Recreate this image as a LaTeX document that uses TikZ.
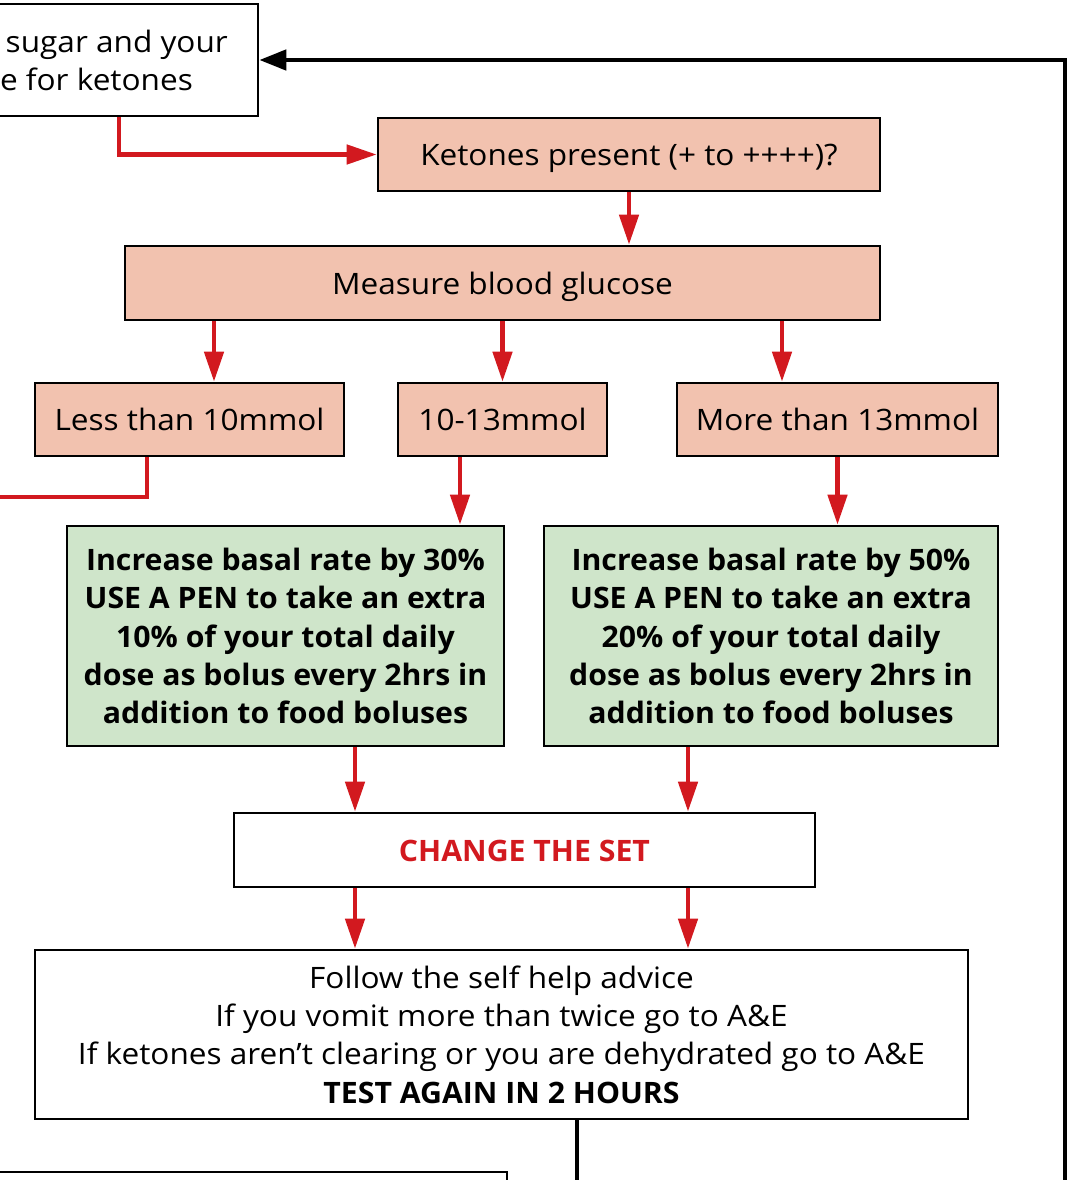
\documentclass[tikz,border=0pt]{standalone}
\usepackage{fontspec}
\setmainfont{Open Sans}[FakeStretch=1.07,BoldFeatures={FakeStretch=1.025}]
\usetikzlibrary{arrows.meta,positioning}
\definecolor{ketfill}{HTML}{F2C2AF}
\definecolor{dosefill}{HTML}{CFE5CA}
\definecolor{arrowred}{HTML}{D2191F}

\begin{document}
\begin{tikzpicture}[x=1pt,y=-1pt]

\tikzset{box/.style={draw,line width=2.6pt,inner sep=0pt,align=center,
           font=\fontsize{29.5}{38.4}\selectfont},
         oneline/.style={text height=22pt,text depth=0pt},
         ketbox/.style={box,oneline,fill=ketfill},
         dosebox/.style={box,fill=dosefill,font=\bfseries\fontsize{29.5}{38.4}\selectfont},
         plaintext/.style={inner sep=0pt,font=\fontsize{29.5}{38.4}\selectfont},
         redarrow/.style={draw=arrowred,line width=4.6pt,-{Triangle[length=30pt,width=19pt]}},
         redline/.style={draw=arrowred,line width=4.6pt},
         loopline/.style={draw=black,line width=4.6pt,-{Triangle[length=27pt,width=20pt]}}}

\useasboundingbox (0,0) rectangle (1069,1180);
\clip (0,0) rectangle (1069,1180);

% boxes
\node[box,minimum width=558pt,minimum height=112pt] (test) at (-21,60) {};
\node[plaintext,anchor=base east] (testa) at (228,53) {sugar and your};
\node[plaintext,anchor=base east] (testb) at (193,91) {e for ketones};
\node[ketbox,minimum width=502pt,minimum height=73pt] (ket) at (629,154.5) {Ketones present (+ to ++++)?};
\node[ketbox,minimum width=755pt,minimum height=74pt] (meas) at (502.5,283) {Measure blood glucose};
\node[ketbox,minimum width=309pt,minimum height=73pt] (less) at (189.5,419.5) {Less than 10mmol};
\node[ketbox,minimum width=209pt,minimum height=73pt] (mid) at (502.5,419.5) {10-13mmol};
\node[ketbox,minimum width=321pt,minimum height=73pt] (more) at (837.5,419.5) {More than 13mmol};
\node[dosebox,minimum width=437pt,minimum height=220pt] (doseA) at (285.5,636)
  {Increase basal rate by 30\%\\USE A PEN to take an extra\\10\% of your total daily\\dose as bolus every 2hrs in\\addition to food boluses};
\node[dosebox,minimum width=454pt,minimum height=220pt] (doseB) at (771,636)
  {Increase basal rate by 50\%\\USE A PEN to take an extra\\20\% of your total daily\\dose as bolus every 2hrs in\\addition to food boluses};
\node[box,oneline,minimum width=581pt,minimum height=74pt,text=arrowred,font=\bfseries\fontsize{29.5}{38.4}\selectfont] (change) at (524.5,850) {CHANGE THE SET};
\node[box,minimum width=933pt,minimum height=169pt] (follow) at (501.5,1034.5)
  {Follow the self help advice\\If you vomit more than twice go to A\&E\\If ketones aren’t clearing or you are dehydrated go to A\&E\\\textbf{TEST AGAIN IN 2 HOURS}};
\node[box,minimum width=557pt,minimum height=88pt] (next) at (228.5,1216) {};

% connectors
\draw[redarrow] (test.south -| 119,0) |- (ket.west);
\draw[redarrow] (ket.south) -- (meas.north -| ket.south);
\draw[redarrow] (meas.south -| 214,0) -- (less.north -| 214,0);
\draw[redarrow] (meas.south -| mid.north) -- (mid.north);
\draw[redarrow] (meas.south -| 782,0) -- (more.north -| 782,0);
\draw[redline] (less.south -| 147,0) -- (147,497) -- (-20,497);
\draw[redarrow] (mid.south -| 460,0) -- (doseA.north -| 460,0);
\draw[redarrow] (more.south) -- (doseB.north -| more.south);
\draw[redarrow] (doseA.south -| 355,0) -- (change.north -| 355,0);
\draw[redarrow] (doseB.south -| 688,0) -- (change.north -| 688,0);
\draw[redarrow] (change.south -| 355,0) -- (follow.north -| 355,0);
\draw[redarrow] (change.south -| 688,0) -- (follow.north -| 688,0);
\draw[loopline] (follow.south -| 577,0) -- (577,1182) -- (1065,1182) -- (1065,60) -- (test.east);

\end{tikzpicture}
\end{document}
